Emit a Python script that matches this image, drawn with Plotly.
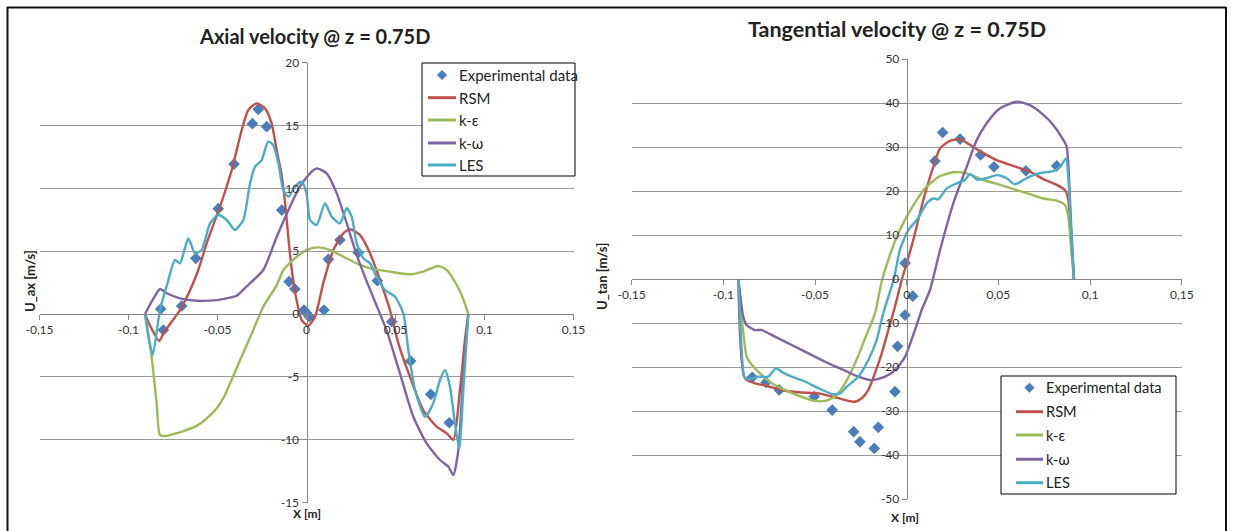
import plotly.graph_objects as go

# ---------------- Axial velocity (left) ----------------
ax_exp_x = [-0.0819, -0.0804, -0.0701, -0.0622, -0.0496, -0.0407, -0.0304, -0.0271, -0.0224,
            -0.0139, -0.0098, -0.0065, -0.0014, 0.0000, 0.0016, 0.0098, 0.0123, 0.0188, 0.0291,
            0.0398, 0.0479, 0.0585, 0.0698, 0.0802]
ax_exp_y = [0.40, -1.27, 0.64, 4.43, 8.38, 11.93, 15.14, 16.28, 14.90,
            8.27, 2.57, 1.99, 0.32, 0.06, -0.21, 0.32, 4.35, 5.89, 4.88,
            2.65, -0.61, -3.74, -6.39, -8.65]

ax_rsm_x = [-0.0907, -0.0880, -0.0827, -0.0804, -0.0711, -0.0654, -0.0608, -0.0561, -0.0486, -0.0420,
            -0.0364, -0.0327, -0.0280, -0.0233, -0.0196, -0.0167, -0.0139, -0.0120, -0.0093, -0.0065,
            -0.0027, 0.0010, 0.0048, 0.0094, 0.0151, 0.0207, 0.0244, 0.0301, 0.0357, 0.0413,
            0.0469, 0.0516, 0.0581, 0.0656, 0.0731, 0.0788, 0.0825, 0.0862, 0.0890, 0.0909]
ax_rsm_y = [0.0, -0.9, -2.15, -1.54, 0.32, 1.9, 3.5, 5.62, 8.54, 11.46,
            14.64, 16.23, 16.76, 16.36, 15.17, 13.0, 11.0, 8.8, 4.8, 1.8,
            -0.48, -0.93, -0.21, 2.44, 5.09, 6.42, 6.74, 6.28, 4.83, 2.7,
            0.32, -2.33, -4.98, -7.64, -8.96, -9.49, -10.02, -6.05, -2.07, 0.0]

ax_ke_x = [-0.0907, -0.0885, -0.0870, -0.0842, -0.0823, -0.0790, -0.0748, -0.0680, -0.0617, -0.0560,
           -0.0504, -0.0460, -0.0420, -0.0374, -0.0299, -0.0243, -0.0167, -0.0130, -0.0055, 0.0010,
           0.0066, 0.0132, 0.0207, 0.0282, 0.0357, 0.0469, 0.0581, 0.0656, 0.0740, 0.0788,
           0.0844, 0.0880, 0.0909]
ax_ke_y = [0.0, -2.0, -3.4, -7.1, -9.63, -9.7, -9.55, -9.25, -8.9, -8.3,
           -7.5, -6.5, -5.2, -3.7, -1.27, 0.58, 2.3, 3.5, 4.56, 5.15,
           5.3, 5.09, 4.56, 4.03, 3.63, 3.37, 3.16, 3.37, 3.82, 3.5,
           2.31, 1.2, 0.0]

ax_kw_x = [-0.0907, -0.0865, -0.0823, -0.0785, -0.0711, -0.0617, -0.0504, -0.0430, -0.0392, -0.0336,
           -0.0243, -0.0167, -0.0093, -0.0037, 0.0020, 0.0057, 0.0113, 0.0170, 0.0226, 0.0282,
           0.0338, 0.0390, 0.0450, 0.0525, 0.0600, 0.0675, 0.0750, 0.0797, 0.0825, 0.0853,
           0.0881, 0.0909]
ax_kw_y = [0.0, 1.1, 1.99, 1.65, 1.25, 1.06, 1.11, 1.3, 1.45, 2.2,
           3.5, 6.15, 8.54, 10.13, 11.19, 11.59, 11.19, 9.6, 7.21, 4.7,
           2.6, 0.8, -1.3, -4.72, -8.17, -10.29, -11.61, -12.15, -12.81, -10.82,
           -4.72, 0.0]

ax_les_x = [-0.0907, -0.0885, -0.0864, -0.0823, -0.0780, -0.0739, -0.0711, -0.0664, -0.0626, -0.0589,
            -0.0542, -0.0496, -0.0448, -0.0402, -0.0355, -0.0317, -0.0289, -0.0252, -0.0215, -0.0187,
            -0.0158, -0.0130, -0.0102, -0.0065, -0.0027, 0.0000, 0.0020, 0.0057, 0.0104, 0.0142,
            0.0188, 0.0226, 0.0254, 0.0282, 0.0319, 0.0357, 0.0394, 0.0441, 0.0497, 0.0544,
            0.0572, 0.0610, 0.0666, 0.0712, 0.0750, 0.0778, 0.0806, 0.0834, 0.0858, 0.0881, 0.0909]
ax_les_y = [0.0, -2.0, -3.26, 0.32, 2.5, 4.3, 4.03, 6.02, 4.83, 5.09,
            7.21, 7.88, 7.48, 6.68, 7.48, 10.4, 11.72, 12.25, 13.71, 13.44,
            11.99, 9.86, 9.33, 10.13, 10.52, 9.6, 7.48, 7.08, 8.81, 7.74,
            7.21, 8.41, 7.74, 5.62, 4.43, 4.03, 2.97, 1.91, 1.38, 0.06,
            -2.86, -6.05, -8.17, -7.1, -5.25, -4.45, -5.78, -8.7, -10.69, -6.05, 0.0]

# ---------------- Tangential velocity (right) ----------------
tan_exp_x = [-0.0842, -0.0767, -0.0695, -0.0504, -0.0406, -0.0289, -0.0255, -0.0177, -0.0155, -0.0064,
             -0.0050, -0.0009, 0.0033, -0.0009, 0.0154, 0.0196, 0.0291, 0.0403, 0.0476, 0.0650, 0.0818]
tan_exp_y = [-22.35, -23.5, -25.2, -26.7, -29.8, -34.7, -37.0, -38.5, -33.7, -25.6,
             -15.3, -8.2, -3.9, 3.6, 26.8, 33.3, 31.8, 28.2, 25.5, 24.6, 25.7]

tan_rsm_x = [-0.0918, -0.0882, -0.0827, -0.0773, -0.0718, -0.0664, -0.0573, -0.0482, -0.0409, -0.0336,
             -0.0282, -0.0245, -0.0209, -0.0173, -0.0136, -0.0100, -0.0064, -0.0027, 0.0000, 0.0036,
             0.0091, 0.0145, 0.0182, 0.0236, 0.0291, 0.0345, 0.0418, 0.0491, 0.0581, 0.0672,
             0.0745, 0.0818, 0.0863, 0.0881, 0.0896, 0.0912]
tan_rsm_y = [0.0, -22.6, -23.7, -24.2, -24.8, -25.4, -25.8, -26.0, -26.7, -27.5,
             -27.9, -27.1, -25.2, -21.4, -16.9, -11.6, -6.3, -0.2, 3.6, 8.9,
             18.0, 25.5, 29.7, 31.4, 31.75, 30.5, 28.6, 27.0, 25.7, 24.4,
             22.7, 21.4, 20.2, 18.0, 8.9, 0.0]

tan_ke_x = [-0.0918, -0.0900, -0.0872, -0.0845, -0.0791, -0.0736, -0.0664, -0.0591, -0.0500, -0.0445,
            -0.0391, -0.0336, -0.0282, -0.0227, -0.0173, -0.0136, -0.0091, -0.0055, -0.0019, 0.0055,
            0.0109, 0.0182, 0.0254, 0.0327, 0.0418, 0.0509, 0.0600, 0.0672, 0.0745, 0.0818,
            0.0863, 0.0881, 0.0896, 0.0912]
tan_ke_y = [0.0, -8.6, -17.7, -19.5, -21.8, -23.7, -25.2, -26.5, -27.7, -27.7,
            -26.7, -23.7, -19.2, -13.5, -7.8, -0.5, 5.5, 9.5, 12.7, 18.0,
            21.0, 23.4, 24.25, 24.0, 22.5, 21.4, 20.2, 19.3, 18.3, 17.8,
            16.8, 14.2, 7.3, 0.0]

tan_kw_x = [-0.0918, -0.0891, -0.0872, -0.0827, -0.0791, -0.0718, -0.0627, -0.0536, -0.0445, -0.0354,
            -0.0264, -0.0191, -0.0118, -0.0064, -0.0009, 0.0045, 0.0082, 0.0127, 0.0182, 0.0254,
            0.0327, 0.0382, 0.0436, 0.0509, 0.0600, 0.0672, 0.0745, 0.0799, 0.0854, 0.0872,
            0.0881, 0.0896, 0.0912]
tan_kw_y = [0.0, -8.6, -10.5, -11.6, -11.6, -13.1, -15.0, -16.9, -18.8, -20.5,
            -22.2, -23.0, -22.2, -20.7, -17.7, -11.6, -7.0, -2.5, 6.6, 17.2,
            25.5, 31.6, 35.4, 38.8, 40.3, 39.5, 37.3, 35.0, 31.6, 30.1,
            26.3, 12.7, 0.0]

tan_les_x = [-0.0918, -0.0900, -0.0886, -0.0864, -0.0809, -0.0755, -0.0714, -0.0682, -0.0627, -0.0555,
             -0.0482, -0.0409, -0.0364, -0.0327, -0.0264, -0.0209, -0.0164, -0.0128, -0.0070, -0.0036,
             0.0009, 0.0055, 0.0109, 0.0145, 0.0172, 0.0218, 0.0273, 0.0318, 0.0345, 0.0382,
             0.0436, 0.0491, 0.0545, 0.0590, 0.0636, 0.0690, 0.0745, 0.0799, 0.0836, 0.0869,
             0.0881, 0.0896, 0.0912]
tan_les_y = [0.0, -16.1, -22.2, -22.8, -22.2, -22.2, -20.3, -21.1, -22.2, -23.3,
             -24.8, -26.1, -26.0, -24.5, -22.2, -18.4, -13.9, -7.8, 0.0, 6.8,
             11.1, 13.4, 17.2, 18.3, 18.1, 20.6, 21.75, 22.5, 23.9, 22.65,
             22.9, 23.6, 22.9, 21.5, 22.5, 23.6, 24.2, 24.5, 25.5, 27.4,
             23.25, 11.1, 0.0]

# ---------------- Axis ticks ----------------
x_tick_vals = [-0.15, -0.1, -0.05, 0, 0.05, 0.1, 0.15]
x_tick_text = ["-0,15", "-0,1", "-0,05", "0", "0,05", "0,1", "0,15"]
ax_y_tick_vals = [-15, -10, -5, 0, 5, 10, 15, 20]
ax_y_tick_text = ["-15", "-10", "-5", "0", "5", "10", "15", "20"]
tan_y_tick_vals = [-50, -40, -30, -20, -10, 0, 10, 20, 30, 40, 50]
tan_y_tick_text = ["-50", "-40", "-30", "-20", "-10", "0", "10", "20", "30", "40", "50"]

series_names = ["Experimental data", "RSM", "k-ε", "k-ω", "LES"]
colors = ["#4a7ebb", "#c0504d", "#9bbb59", "#8064a2", "#4bacc6"]

W, H = 1233, 531
FONT = "Lato, Carlito, 'Open Sans', sans-serif"


def px(xp):
    return xp / W


def py(yp):
    return 1 - yp / H


fig = go.Figure()

left = [(ax_exp_x, ax_exp_y), (ax_rsm_x, ax_rsm_y), (ax_ke_x, ax_ke_y), (ax_kw_x, ax_kw_y), (ax_les_x, ax_les_y)]
right = [(tan_exp_x, tan_exp_y), (tan_rsm_x, tan_rsm_y), (tan_ke_x, tan_ke_y), (tan_kw_x, tan_kw_y), (tan_les_x, tan_les_y)]

for group, xa, ya in [(left, "x", "y"), (right, "x2", "y2")]:
    for i, (xs, ys) in enumerate(group):
        if i == 0:
            fig.add_trace(go.Scatter(x=xs, y=ys, mode="markers", name=series_names[i],
                                     marker=dict(symbol="diamond", size=9, color=colors[i]),
                                     xaxis=xa, yaxis=ya, showlegend=False))
        else:
            fig.add_trace(go.Scatter(x=xs, y=ys, mode="lines", name=series_names[i],
                                     line=dict(color=colors[i], width=2.4, shape="spline", smoothing=0.6),
                                     xaxis=xa, yaxis=ya, showlegend=False))

axis_common = dict(showline=True, linecolor="#868686", linewidth=1, ticks="outside", ticklen=5,
                   tickcolor="#868686", zeroline=False, automargin=False,
                   tickfont=dict(family=FONT, size=12, color="#333"))

fig.update_layout(
    width=W, height=H, margin=dict(l=0, r=0, t=0, b=0, autoexpand=False),
    paper_bgcolor="white", plot_bgcolor="white",
    font=dict(family=FONT, color="#222"),
    xaxis=dict(domain=[px(39.5), px(573.5)], range=[-0.15, 0.15], anchor="free", position=py(314),
               showgrid=False, tickvals=x_tick_vals, ticktext=x_tick_text, **axis_common),
    yaxis=dict(domain=[py(502.6), py(62.6)], range=[-15, 20], anchor="free", position=px(306.5),
               showgrid=True, gridcolor="#9a9a9a", gridwidth=1,
               tickvals=ax_y_tick_vals, ticktext=ax_y_tick_text, **axis_common),
    xaxis2=dict(domain=[px(631.6), px(1181.8)], range=[-0.15, 0.15], anchor="free", position=py(279),
                showgrid=False, tickvals=x_tick_vals, ticktext=x_tick_text, **axis_common),
    yaxis2=dict(domain=[py(499), py(59)], range=[-50, 50], anchor="free", position=px(906.7),
                showgrid=True, gridcolor="#9a9a9a", gridwidth=1,
                tickvals=tan_y_tick_vals, ticktext=tan_y_tick_text, **axis_common),
    showlegend=False,
)

annots = [
    dict(text="<b>Axial velocity @ z = 0.75D</b>", x=px(314), y=py(36), size=20, angle=0),
    dict(text="<b>Tangential velocity @ z = 0.75D</b>", x=px(897), y=py(29), size=21.5, angle=0),
    dict(text="<b>X [m]</b>", x=px(307), y=py(513), size=12, angle=0),
    dict(text="<b>X [m]</b>", x=px(905), y=py(517), size=12, angle=0),
    dict(text="<b>U_ax [m/s]</b>", x=px(30), y=py(281), size=13, angle=-90),
    dict(text="<b>U_tan [m/s]</b>", x=px(602), y=py(277), size=13, angle=-90),
]
for a in annots:
    fig.add_annotation(text=a["text"], x=a["x"], y=a["y"], xref="paper", yref="paper",
                       xanchor="center", yanchor="middle", showarrow=False, textangle=a["angle"],
                       font=dict(family=FONT, size=a["size"], color="#222"))

# ---------------- legends (drawn as boxes with sample glyphs) ----------------
legend_boxes = [
    dict(x0=422, x1=575, y0=63, y1=176, seg0=428, seg1=456, tx=457,
         rows=[75, 97.7, 120, 143, 165], fs=15),
    dict(x0=1001, x1=1176, y0=376, y1=494, seg0=1016, seg1=1043, tx=1044,
         rows=[387.7, 411.7, 435, 459.3, 482.7], fs=14.6),
]
for lb in legend_boxes:
    fig.add_shape(type="rect", xref="paper", yref="paper", x0=px(lb["x0"]), x1=px(lb["x1"]),
                  y0=py(lb["y1"]), y1=py(lb["y0"]), line=dict(color="#000", width=1),
                  fillcolor="white", layer="above")
    for i, name in enumerate(series_names):
        yr = lb["rows"][i]
        if i == 0:
            cx = (lb["seg0"] + lb["seg1"]) / 2
            d = 4.8
            path = (f"M {px(cx)},{py(yr - d)} L {px(cx + d)},{py(yr)} "
                    f"L {px(cx)},{py(yr + d)} L {px(cx - d)},{py(yr)} Z")
            fig.add_shape(type="path", xref="paper", yref="paper", path=path,
                          fillcolor=colors[0], line=dict(color=colors[0], width=0.5), layer="above")
        else:
            fig.add_shape(type="line", xref="paper", yref="paper", x0=px(lb["seg0"]), x1=px(lb["seg1"]),
                          y0=py(yr), y1=py(yr), line=dict(color=colors[i], width=3), layer="above")
        fig.add_annotation(text=name, x=px(lb["tx"]), y=py(yr), xref="paper", yref="paper",
                           xanchor="left", yanchor="middle", showarrow=False,
                           font=dict(family=FONT, size=lb["fs"], color="#222"))

# chart frame lines
fig.add_shape(type="line", xref="paper", yref="paper", x0=px(7), x1=px(1226), y0=py(7.5), y1=py(7.5),
              line=dict(color="#111", width=2))
fig.add_shape(type="line", xref="paper", yref="paper", x0=px(7.5), x1=px(7.5), y0=py(7), y1=0,
              line=dict(color="#111", width=2))
fig.add_shape(type="line", xref="paper", yref="paper", x0=px(1226), x1=px(1226), y0=py(7), y1=0,
              line=dict(color="#111", width=2))

fig.write_html("out.html", config={"displayModeBar": False},
               post_script="document.body.style.margin='0';document.body.style.overflow='hidden';")
